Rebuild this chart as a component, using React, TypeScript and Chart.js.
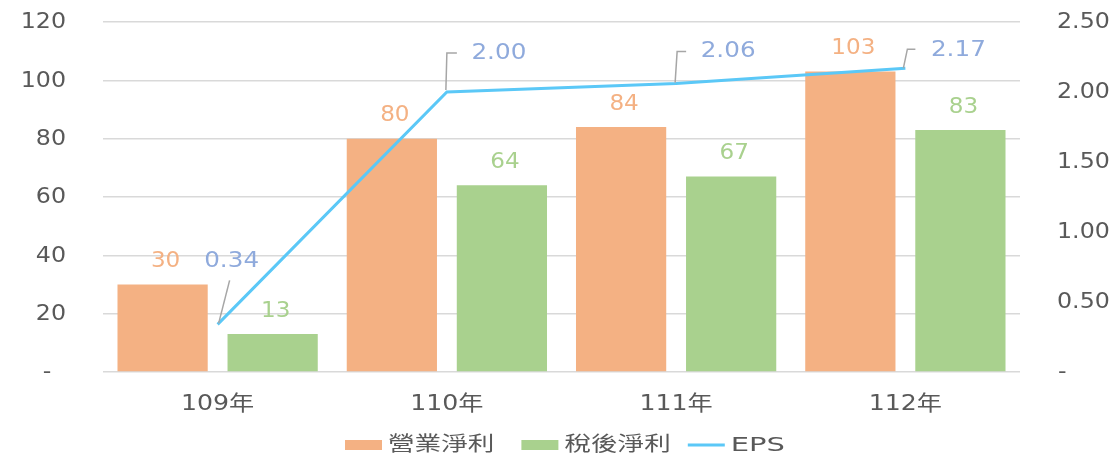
import React, { useEffect, useRef } from "react";
import { Chart, registerables } from "chart.js";

Chart.register(...registerables);

const categories = ["109年", "110年", "111年", "112年"];
const operatingProfit = [30, 80, 84, 103];
const netProfit = [13, 64, 67, 83];
const eps = [0.34, 2.0, 2.06, 2.17];
const seriesNames = ["營業淨利", "稅後淨利", "EPS"];

const FONT = '"DejaVu Sans", "Noto Sans CJK TC", sans-serif';
const ORANGE = "#F4B183";
const GREEN = "#A9D18E";
const LINE = "#5BC8F7";
const EPS_LABEL = "#8FAADC";
const TICK = "#595959";

// label offsets (styling, relative to the drawn point)
const epsLabelStyle = [
  { label: [14, -63], leader: [[1, -1], [12, -44]] },
  { label: [52, -39], leader: [[-1, -2], [0, -39], [10, -39]] },
  { label: [52, -32], leader: [[-1, -1], [1, -32], [10, -32]] },
  { label: [53, -18], leader: [[-2, 0], [2, -19], [10, -19]] },
];

function stretchText(ctx: any, text: string, x: number, y: number, align: string, sx: number) {
  ctx.save();
  ctx.translate(x, y);
  ctx.scale(sx, 1);
  ctx.textAlign = align;
  ctx.fillText(text, 0, 0);
  ctx.restore();
}

const tickPlugin = {
  id: "stretchedTicks",
  afterDraw(chart: any) {
    const ctx = chart.ctx;
    ctx.save();
    ctx.fillStyle = TICK;
    ctx.textBaseline = "middle";
    ctx.font = `21px ${FONT}`;
    const y = chart.scales.y;
    y.ticks.forEach((t: any) => {
      const py = y.getPixelForValue(t.value) + 1;
      if (t.value === 0) stretchText(ctx, "-", 47, py, "center", 1.13);
      else stretchText(ctx, String(t.value), 66, py, "right", 1.13);
    });
    const y1 = chart.scales.y1;
    y1.ticks.forEach((t: any) => {
      const py = y1.getPixelForValue(t.value) + 1;
      if (t.value === 0) stretchText(ctx, "-", 1058, py, "left", 1.13);
      else stretchText(ctx, Number(t.value).toFixed(2), 1057, py, "left", 1.13);
    });
    const x = chart.scales.x;
    ctx.font = `21px ${FONT}`;
    categories.forEach((c, i) => {
      stretchText(ctx, c, x.getPixelForTick(i), 405, "center", 1.2);
    });
    ctx.restore();
  },
};

const labelPlugin = {
  id: "valueLabels",
  afterDatasetsDraw(chart: any) {
    const ctx = chart.ctx;
    ctx.save();
    ctx.font = `22px ${FONT}`;
    ctx.textBaseline = "middle";
    chart.data.datasets.forEach((ds: any, di: number) => {
      const meta = chart.getDatasetMeta(di);
      if (ds.type === "line") {
        meta.data.forEach((pt: any, i: number) => {
          const st = epsLabelStyle[i];
          ctx.strokeStyle = "#A6A6A6";
          ctx.lineWidth = 1.5;
          ctx.beginPath();
          st.leader.forEach((p: number[], k: number) => {
            if (k === 0) ctx.moveTo(pt.x + p[0], pt.y + p[1]);
            else ctx.lineTo(pt.x + p[0], pt.y + p[1]);
          });
          ctx.stroke();
          ctx.fillStyle = EPS_LABEL;
          stretchText(
            ctx,
            (ds.data[i] as number).toFixed(2),
            pt.x + st.label[0],
            pt.y + st.label[1],
            "center",
            1.12
          );
        });
      } else {
        ctx.fillStyle = ds.backgroundColor;
        meta.data.forEach((bar: any, i: number) => {
          stretchText(ctx, String(ds.data[i]), bar.x + 3, bar.y - 23, "center", 1.05);
        });
      }
    });
    ctx.restore();
  },
};

const legendPlugin = {
  id: "customLegend",
  afterDraw(chart: any) {
    const ctx = chart.ctx;
    ctx.save();
    ctx.font = `20px ${FONT}`;
    ctx.textBaseline = "middle";
    const sx = 1.33;
    const y = 445;
    const sw = 37;
    const gapText = 6;
    const gaps = [27, 17];
    const colors = [ORANGE, GREEN, LINE];
    let x = 345;
    seriesNames.forEach((name, i) => {
      if (i < 2) {
        ctx.fillStyle = colors[i];
        ctx.fillRect(x, y - 5, sw, 10);
      } else {
        ctx.strokeStyle = colors[i];
        ctx.lineWidth = 3;
        ctx.beginPath();
        ctx.moveTo(x, y);
        ctx.lineTo(x + sw, y);
        ctx.stroke();
      }
      x += sw + gapText;
      ctx.fillStyle = TICK;
      stretchText(ctx, name, x, y + 1, "left", i === 2 ? 1.45 : sx);
      x += ctx.measureText(name).width * sx + (gaps[i] || 0);
    });
    ctx.restore();
  },
};

export default function App() {
  const ref = useRef<HTMLCanvasElement>(null);
  useEffect(() => {
    if (!ref.current) return;
    const chart = new Chart(ref.current, {
      type: "bar",
      data: {
        labels: categories,
        datasets: [
          {
            type: "line",
            label: seriesNames[2],
            data: eps,
            yAxisID: "y1",
            borderColor: LINE,
            backgroundColor: LINE,
            borderWidth: 3,
            pointRadius: 0,
            tension: 0,
            order: 0,
          } as any,
          {
            type: "bar",
            label: seriesNames[0],
            data: operatingProfit,
            yAxisID: "y",
            backgroundColor: ORANGE,
            barPercentage: 0.82,
            categoryPercentage: 0.96,
            order: 1,
          },
          {
            type: "bar",
            label: seriesNames[1],
            data: netProfit,
            yAxisID: "y",
            backgroundColor: GREEN,
            barPercentage: 0.82,
            categoryPercentage: 0.96,
            order: 1,
          },
        ],
      },
      options: {
        responsive: false,
        animation: false,
        layout: { padding: { top: 22, left: 0, right: 0, bottom: 0 } },
        plugins: {
          legend: { display: false },
          tooltip: { enabled: false },
        },
        scales: {
          x: {
            grid: { display: false },
            border: { display: false },
            ticks: { display: false },
            afterFit: (s: any) => {
              s.height = 86;
              s.paddingLeft = 0;
              s.paddingRight = 0;
            },
          },
          y: {
            position: "left",
            min: 0,
            max: 120,
            grid: { color: "#D9D9D9", lineWidth: 1.5, drawTicks: false },
            border: { display: false },
            ticks: { stepSize: 20, display: false },
            afterFit: (s: any) => {
              s.width = 103;
              s.paddingTop = 0;
              s.paddingBottom = 0;
            },
          },
          y1: {
            position: "right",
            min: 0,
            max: 2.5,
            grid: { display: false, drawTicks: false },
            border: { display: false },
            ticks: { stepSize: 0.5, display: false },
            afterFit: (s: any) => {
              s.width = 95;
              s.paddingTop = 0;
              s.paddingBottom = 0;
            },
          },
        },
      } as any,
      plugins: [labelPlugin, tickPlugin, legendPlugin],
    });
    return () => chart.destroy();
  }, []);
  return (
    <div style={{ position: "absolute", left: 0, top: 0, width: 1115, height: 458, background: "#fff" }}>
      <canvas ref={ref} width={1115} height={458} />
    </div>
  );
}
